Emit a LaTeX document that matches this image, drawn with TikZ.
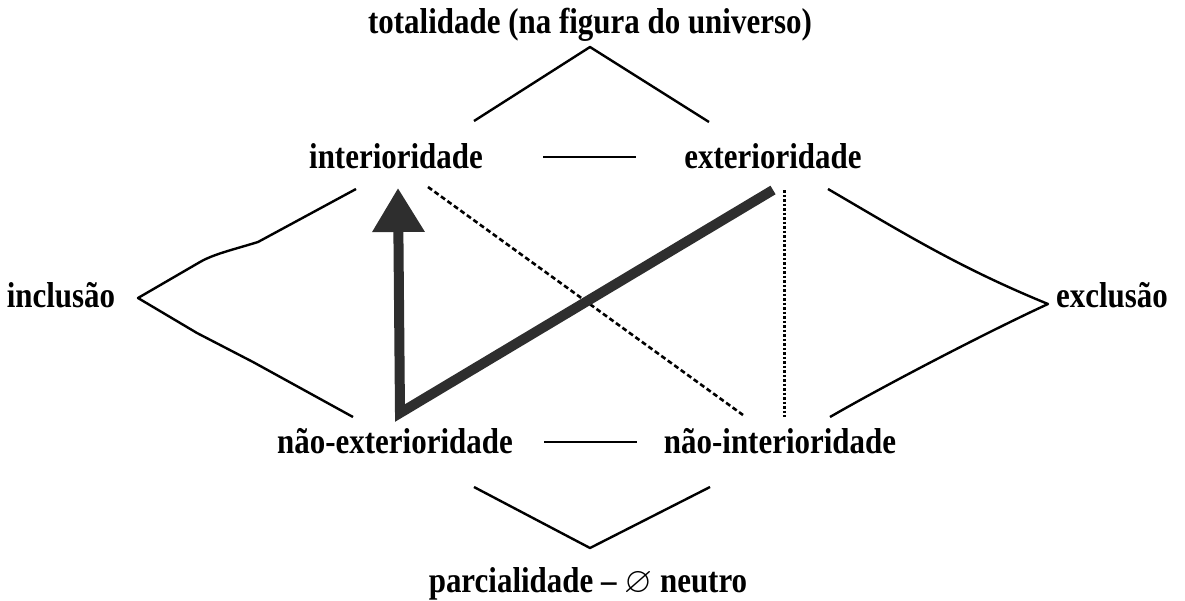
\documentclass[tikz,border=0pt]{standalone}
\usepackage{amssymb}
\usepackage{fontspec}
\setmainfont{Liberation Serif}[FakeStretch=0.86]
\usetikzlibrary{arrows.meta}
\tikzset{
  lbl/.style={anchor=base, inner sep=0pt, font=\fontsize{36}{40}\selectfont\bfseries},
  thin/.style={line width=2.4pt, line join=round},
  dashedl/.style={line width=2.6pt, dash pattern=on 5pt off 3pt},
  dottedl/.style={line width=3pt, dash pattern=on 2.5pt off 2pt},
  heavy/.style={line width=10pt, draw=black!82, line join=miter}
}
\begin{document}
\begin{tikzpicture}[x=1pt,y=-1pt]
\useasboundingbox (0,0) rectangle (1185,600);
% labels
\node[lbl] (tot) at (590,33) {totalidade (na figura do universo)};
\node[lbl] (int) at (396,168) {interioridade};
\node[lbl] (ext) at (773,168) {exterioridade};
\node[lbl] (inc) at (61,307) {inclusão};
\node[lbl] (exc) at (1112,307) {exclusão};
\node[lbl] (next) at (395,453) {não-exterioridade};
\node[lbl] (nint) at (780,453) {não-interioridade};
\node[lbl] (par) at (588,592) {parcialidade -- $\varnothing$ neutro};
% connector end points
\coordinate (t1) at (474,121); \coordinate (t0) at (590,47); \coordinate (t2) at (709,122);
\coordinate (d1a) at (543,157); \coordinate (d1b) at (636,157);
\coordinate (d2a) at (544,442); \coordinate (d2b) at (637,442);
\coordinate (b1) at (474,487); \coordinate (b0) at (590,548); \coordinate (b2) at (710,487);
\coordinate (l1) at (356,189); \coordinate (l0) at (138,298); \coordinate (l2) at (353,417);
\coordinate (r1) at (828,189); \coordinate (r0) at (1048,304); \coordinate (r2) at (830,417);
\coordinate (dsA) at (428,187); \coordinate (dsB) at (743,415);
\coordinate (dtA) at (784,190); \coordinate (dtB) at (784,417);
\coordinate (hA) at (773,190); \coordinate (hB) at (400,413); \coordinate (hC) at (398,188);
% brackets
\draw[thin] (t1) -- (t0) -- (t2);
\draw[thin] (b1) -- (b0) -- (b2);
\draw[thin] (d1a) -- (d1b);
\draw[thin] (d2a) -- (d2b);
\draw[thin] (l1) -- (258,242) .. controls (232,250) and (214,254) .. (200,262) -- (l0) -- (197,333) -- (253,362) -- (l2);
\draw[thin] (r1) .. controls (905,234) and (960,268) .. (r0) .. controls (985,333) and (880,388) .. (r2);
% diagonals
\draw[dashedl] (dsA) -- (dsB);
\draw[dottedl] (dtA) -- (dtB);
\draw[heavy, -{Triangle[length=44pt,width=50pt]}] (hA) -- (hB) -- (hC);
\end{tikzpicture}
\end{document}
